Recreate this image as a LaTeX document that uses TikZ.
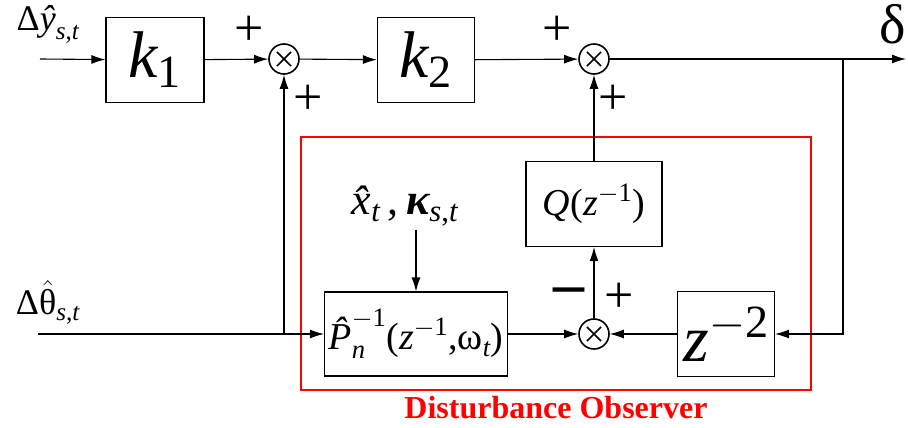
\RequirePackage{fix-cm}
\documentclass[tikz,border=0pt]{standalone}
\usepackage{amsmath}
\usepackage{fontspec}
\setmainfont{Liberation Serif}
\usetikzlibrary{arrows.meta,positioning}

\definecolor{obsred}{RGB}{255,0,0}
\newcommand{\gainfont}{\fontsize{66}{70}\selectfont}
\newcommand{\tffont}{\fontsize{38}{44}\selectfont}
\newcommand{\sigfont}{\fontsize{36}{40}\selectfont}
\newcommand{\signfont}{\fontsize{52}{56}\selectfont}
\newcommand{\vv}[1]{\text{\itshape #1}}
\newcommand{\tx}[1]{\text{#1}}

\tikzset{
  block/.style={draw, line width=1.2pt, inner sep=0pt},
  sumnode/.style={circle, draw, line width=1.6pt, minimum size=30pt, inner sep=0pt,
    path picture={\draw[line width=1.5pt] (path picture bounding box.center) +(45:10pt) -- +(225:10pt)
      (path picture bounding box.center) +(135:10pt) -- +(-45:10pt);}},
  sig/.style={line width=1.1pt, -{Latex[length=14pt,width=9pt]}},
  sign/.style={font=\signfont, inner sep=0pt}
}

\begin{document}
\begin{tikzpicture}[x=1pt,y=-1pt]
    \useasboundingbox (0,0) rectangle (908,428);

    % Forward path
    \coordinate (yin) at (40,59);
    \node[block, minimum width=98pt, minimum height=85pt, font=\gainfont] (k1) at (155,60) {$\vv{k}_{\tx{1}}$};
    \node[sumnode] (s1) at (284,59) {};
    \node[block, minimum width=97pt, minimum height=85pt, font=\gainfont] (k2) at (426,60) {$\vv{k}_{\tx{2}}$};
    \node[sumnode] (s2) at (594,59) {};
    \coordinate (out) at (906,59);
    \coordinate (br) at (843,59);

    % Disturbance observer
    \draw[obsred, line width=2.6pt] (301,137) rectangle (811,390);
    \node[font=\fontsize{32}{36}\selectfont\bfseries, text=obsred] (dolab) at (556,408) {Disturbance Observer};

    \coordinate (thin) at (38,334);
    \coordinate (b1) at (284,334);
    \node[block, minimum width=183pt, minimum height=84pt, font=\tffont] (P) at (416,334)
        {$\vv{P̂}_{\vv{n}}^{-\tx{1}}\tx{(}\vv{z}^{-\tx{1}}\tx{,ω}_{\vv{t}}\tx{)}$};
    \node[sumnode] (s3) at (594,334) {};
    \node[block, minimum width=97pt, minimum height=85pt, font=\gainfont] (z2) at (726,334) {$\vv{z}^{-\tx{2}}$};
    \node[block, minimum width=136pt, minimum height=85pt, font=\tffont] (Q) at (594,204)
        {$\vv{Q}\tx{(}\vv{z}^{-\tx{1}}\tx{)}$};
    \node[font=\fontsize{44}{48}\selectfont] (xk) at (405,206)
        {$\vv{x̂}_{\vv{t}}\,\tx{,}\,\text{\bfseries\itshape κ}_{\vv{s}\tx{,}\vv{t}}$};

    % Signal labels
    \node[font=\sigfont] (ylab) at (48,24) {$\tx{Δ}\vv{ŷ}_{\vv{s}\tx{,}\vv{t}}$};
    \node[font=\sigfont] (thlab) at (48,302) {$\tx{Δ}\hat{\tx{θ}}_{\vv{s}\tx{,}\vv{t}}$};
    \node[font=\fontsize{56}{60}\selectfont] (dlab) at (893,24) {δ};

    % Signs at the summing junctions
    \node[sign] at (249,31) {+};
    \node[sign] at (308,100) {+};
    \node[sign] at (557,31) {+};
    \node[sign] at (613,100) {+};
    \node[sign, font=\fontsize{62}{66}\selectfont] at (569,296) {\textbf{–}};
    \node[sign] at (619,298) {+};

    % Connections
    \draw[sig] (yin) -- (k1);
    \draw[sig] (k1) -- (s1);
    \draw[sig] (s1) -- (k2);
    \draw[sig] (k2) -- (s2);
    \draw[sig] (s2) -- (out);
    \draw[sig] (thin) -- (P);
    \draw[sig] (b1) -- (s1);
    \draw[sig] (P.north |- xk.south) -- (P.north);
    \draw[sig] (P) -- (s3);
    \draw[sig] (z2) -- (s3);
    \draw[sig] (s3) -- (Q);
    \draw[sig] (Q) -- (s2);
    \draw[sig] (br) |- (z2);

\end{tikzpicture}
\end{document}
